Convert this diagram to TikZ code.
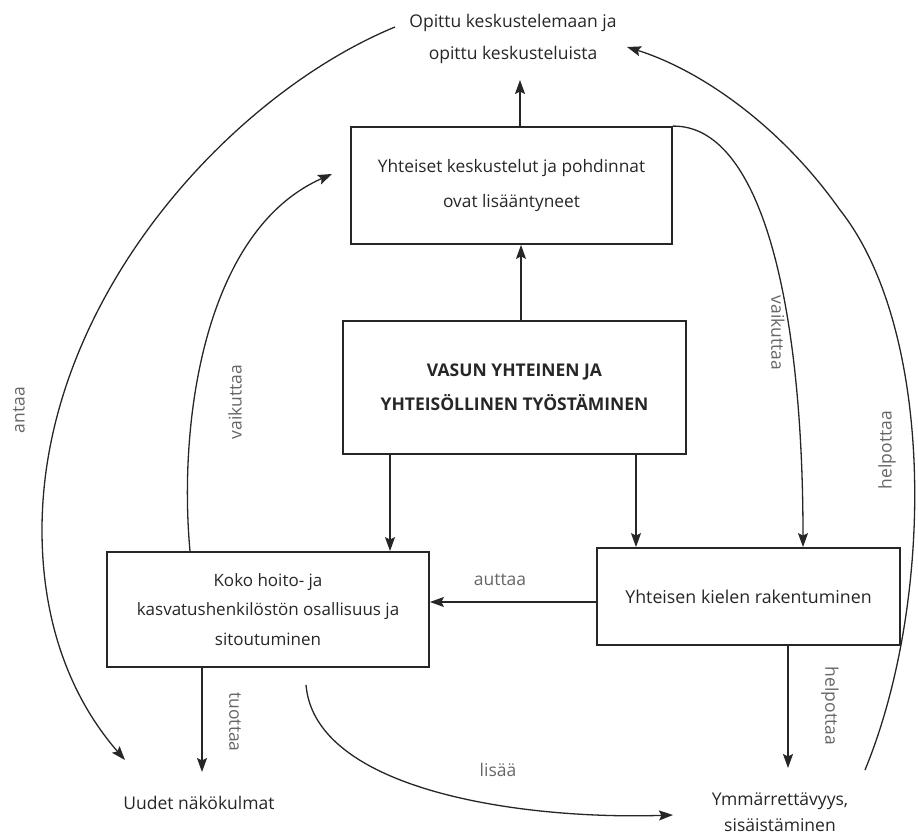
\documentclass[tikz,border=0pt]{standalone}
\usepackage{fontspec}
\setmainfont{Open Sans}
\usetikzlibrary{arrows.meta}
\definecolor{ink}{HTML}{262626}
\definecolor{labelgray}{HTML}{666666}
\begin{document}
\begin{tikzpicture}[x=1pt,y=-1pt,
  box/.style={draw=ink,line width=1.8pt,align=center,inner sep=0pt,text=ink},
  txt/.style={align=center,inner sep=0pt,text=ink},
  lab/.style={text=labelgray,inner sep=0pt,font=\fontsize{17.5}{20}\selectfont},
  conn/.style={draw=ink,line width=1.3pt,-{Stealth[length=14pt,width=10pt,inset=2.5pt]}}]
\useasboundingbox (0,0) rectangle (918,834);

% boxes
\node[box,minimum width=321pt,minimum height=117pt,font=\fontsize{17.3}{35}\selectfont]
  (kesk) at (511.5,185.5) {Yhteiset keskustelut ja pohdinnat\\ovat lisääntyneet};
\node[box,minimum width=343pt,minimum height=133pt,font=\fontsize{17.5}{34}\selectfont\bfseries]
  (vasu) at (514.5,387.5) {VASUN YHTEINEN JA\\YHTEISÖLLINEN TYÖSTÄMINEN};
\node[box,minimum width=322pt,minimum height=115pt,font=\fontsize{17}{29.5}\selectfont]
  (koko) at (268,609.5) {Koko hoito- ja\\kasvatushenkilöstön osallisuus ja\\sitoutuminen};
\node[box,minimum width=303pt,minimum height=97pt,font=\fontsize{17.8}{30}\selectfont]
  (kieli) at (748.5,596.5) {Yhteisen kielen rakentuminen};

% free texts
\node[txt,font=\fontsize{17.5}{32}\selectfont] (opittu) at (513,39) {Opittu keskustelemaan ja\\opittu keskusteluista};
\node[txt,font=\fontsize{17.5}{26}\selectfont] (uudet) at (199,803) {Uudet näkökulmat};
\node[txt,font=\fontsize{17.5}{26}\selectfont] (ymm) at (780,812) {Ymmärrettävyys,\\sisäistäminen};

% connector columns and free ends
\coordinate (xa) at (520,0);
\coordinate (xb) at (521,0);
\coordinate (xc) at (390,0);
\coordinate (xd) at (636,0);
\coordinate (xe) at (788,0);
\coordinate (xf) at (202,0);
\coordinate (xg) at (190,0);
\coordinate (xh) at (803,0);
\coordinate (yauttaa) at (0,602);
\coordinate (opittuEnd) at (520,80);
\coordinate (ymmEnd) at (788,768);
\coordinate (uudetEnd) at (202,772);
\coordinate (antaaStart) at (395,27);
\coordinate (antaaEnd) at (125,760);
\coordinate (vlEnd) at (332,174);
\coordinate (helpStart) at (865,770);
\coordinate (helpEnd) at (627,47);
\coordinate (lisaaStart) at (306,685);
\coordinate (lisaaEnd) at (673,815);

% straight connectors
\draw[conn] (kesk.north -| xa) -- (opittuEnd);
\draw[conn] (vasu.north -| xb) -- (kesk.south -| xb);
\draw[conn] (vasu.south -| xc) -- (koko.north -| xc);
\draw[conn] (vasu.south -| xd) -- (kieli.north -| xd);
\draw[conn] (kieli.west |- yauttaa) -- (koko.east |- yauttaa);
\draw[conn] (kieli.south -| xe) -- (ymmEnd);
\draw[conn] (koko.south -| xf) -- (uudetEnd);

% curved connectors
\draw[conn] (antaaStart) .. controls (230,95) and (42,300) .. (42,530)
  .. controls (42,650) and (90,720) .. (antaaEnd);
\draw[conn] (koko.north -| xg) .. controls (178,420) and (205,230) .. (vlEnd);
\draw[conn] (kesk.north east) .. controls (760,125) and (803,300) .. (kieli.north -| xh);
\draw[conn] (helpStart) .. controls (935,600) and (935,330) .. (840,210)
  .. controls (780,125) and (700,70) .. (helpEnd);
\draw[conn] (lisaaStart) .. controls (315,790) and (520,820) .. (lisaaEnd);

% connector labels
\node[lab] (lAuttaa) at (500,580) {auttaa};
\node[lab] (lLisaa) at (498,770) {lisää};
\node[lab,rotate=-90] (lTuottaa) at (235,722) {tuottaa};
\node[lab,rotate=-90] (lHelpA) at (830,706) {helpottaa};
\node[lab,rotate=90] (lHelpB) at (887,450) {helpottaa};
\node[lab,rotate=-90] (lVaikR) at (778,333) {vaikuttaa};
\node[lab,rotate=90] (lVaikL) at (235,402) {vaikuttaa};
\node[lab,rotate=90] (lAntaa) at (19,410) {antaa};
\end{tikzpicture}
\end{document}
